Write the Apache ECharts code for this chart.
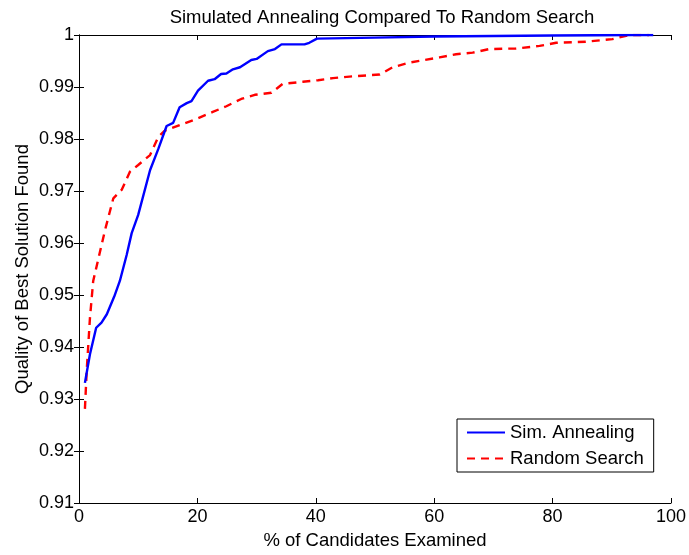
<!DOCTYPE html>
<html>
<head>
<meta charset="utf-8">
<script src="https://cdn.jsdelivr.net/npm/echarts@6/dist/echarts.min.js"></script>
<style>
  html, body { margin: 0; padding: 0; background: #fff; }
  #main { width: 689px; height: 555px; }
</style>
</head>
<body>
<div id="main"></div>
<script>
// values
var annealX = [1, 1.85, 2.9, 3.8, 4.7, 5.95, 6.9, 8.05, 8.9, 10, 12, 13.4, 14.8, 15.9, 17, 18.2, 19, 20.1, 21.8, 22.9, 24, 24.9, 26, 27.2, 29.1, 30, 31.9, 33.1, 34.2, 38.1, 38.9, 40.2, 50, 60, 70, 80, 87.3, 93.4, 97];
var annealY = [0.9331, 0.9386, 0.9437, 0.9447, 0.9463, 0.9497, 0.9527, 0.9577, 0.9619, 0.9654, 0.974, 0.9781, 0.9825, 0.9831, 0.9861, 0.9869, 0.9873, 0.9893, 0.9912, 0.9915, 0.9925, 0.9926, 0.9934, 0.9938, 0.9952, 0.9954, 0.9969, 0.9973, 0.9982, 0.9982, 0.9985, 0.9993, 0.9995, 0.9997, 0.9998, 0.9999, 0.99995, 1, 1];

var randomX = [1, 1.3, 1.85, 2.4, 3.3, 4.4, 5.8, 7.2, 8.6, 10, 12, 13.4, 14.5, 17.6, 19.9, 22.6, 24.9, 27.4, 29.7, 32.5, 34.4, 37.8, 40.4, 42.9, 45.7, 50.8, 53, 55.8, 60.9, 63.7, 66.5, 69.3, 73.8, 77.8, 80.6, 85.6, 90.1, 93, 96.3];
var randomY = [0.9281, 0.9354, 0.9456, 0.9527, 0.9571, 0.9625, 0.9686, 0.9702, 0.9737, 0.975, 0.9769, 0.9804, 0.9816, 0.9829, 0.9839, 0.9852, 0.9863, 0.9877, 0.9885, 0.9889, 0.9906, 0.991, 0.9913, 0.9917, 0.992, 0.9924, 0.9938, 0.9947, 0.9957, 0.9963, 0.9966, 0.9973, 0.9974, 0.9979, 0.9985, 0.9987, 0.9992, 1, 1];

var seriesNames = ['Sim. Annealing', 'Random Search'];

function pairs(xs, ys) {
  return xs.map(function (x, i) { return [x, ys[i]]; });
}

var font = 'Liberation Sans, Arial, Helvetica, sans-serif';
var chart = echarts.init(document.getElementById('main'), null, { renderer: 'canvas' });

var axisLine = { show: true, lineStyle: { color: '#000', width: 1 } };
var tickIn = { show: true, inside: true, length: 5, lineStyle: { color: '#000' } };

var option = {
  backgroundColor: '#fff',
  animation: false,
  title: {
    text: 'Simulated Annealing Compared To Random Search',
    left: 377,
    top: 3,
    textAlign: 'center',
    textStyle: { fontFamily: font, fontSize: 18.5, fontWeight: 'normal', color: '#000' }
  },
  legend: {
    data: seriesNames,
    orient: 'vertical',
    left: 457,
    top: 419,
    padding: [4, 10, 4, 9],
    itemWidth: 38,
    itemHeight: 14,
    itemGap: 7,
    borderColor: '#000',
    borderWidth: 1,
    borderRadius: 0,
    backgroundColor: '#fff',
    itemStyle: { opacity: 0 },
    textStyle: { fontFamily: font, fontSize: 18.5, color: '#000' }
  },
  grid: { left: 79, right: 17, top: 35, bottom: 49, containLabel: false },
  xAxis: [{
    type: 'value',
    min: 0,
    max: 100,
    interval: 20,
    position: 'bottom',
    name: '% of Candidates Examined',
    nameLocation: 'middle',
    nameGap: 28,
    nameTextStyle: { fontFamily: font, fontSize: 18.5, color: '#000' },
    axisLine: axisLine,
    axisTick: tickIn,
    splitLine: { show: false },
    axisLabel: { fontFamily: font, fontSize: 18, color: '#000', margin: 5 }
  }, {
    type: 'value',
    min: 0,
    max: 100,
    interval: 20,
    position: 'top',
    axisLine: axisLine,
    axisTick: tickIn,
    splitLine: { show: false },
    axisLabel: { show: false }
  }],
  yAxis: [{
    type: 'value',
    min: 0.91,
    max: 1,
    interval: 0.01,
    position: 'left',
    name: 'Quality of Best Solution Found',
    nameLocation: 'middle',
    nameGap: 47,
    nameMoveOverlap: false,
    nameTextStyle: { fontFamily: font, fontSize: 18.5, color: '#000' },
    axisLine: axisLine,
    axisTick: tickIn,
    splitLine: { show: false },
    axisLabel: {
      fontFamily: font, fontSize: 18, color: '#000', margin: 5,
      formatter: function (v) { return String(+v.toFixed(2)); }
    }
  }, {
    type: 'value',
    min: 0.91,
    max: 1,
    interval: 0.01,
    position: 'right',
    axisLine: axisLine,
    axisTick: tickIn,
    splitLine: { show: false },
    axisLabel: { show: false }
  }],
  series: [{
    name: seriesNames[0],
    type: 'line',
    data: pairs(annealX, annealY),
    symbol: 'none',
    color: '#0000ff',
    lineStyle: { color: '#0000ff', width: 2.4 },
    z: 3
  }, {
    name: seriesNames[1],
    type: 'line',
    data: pairs(randomX, randomY),
    symbol: 'none',
    color: '#ff0000',
    lineStyle: { color: '#ff0000', width: 2.4, type: [8, 6] },
    z: 2
  }]
};

chart.setOption(option);
</script>
</body>
</html>
